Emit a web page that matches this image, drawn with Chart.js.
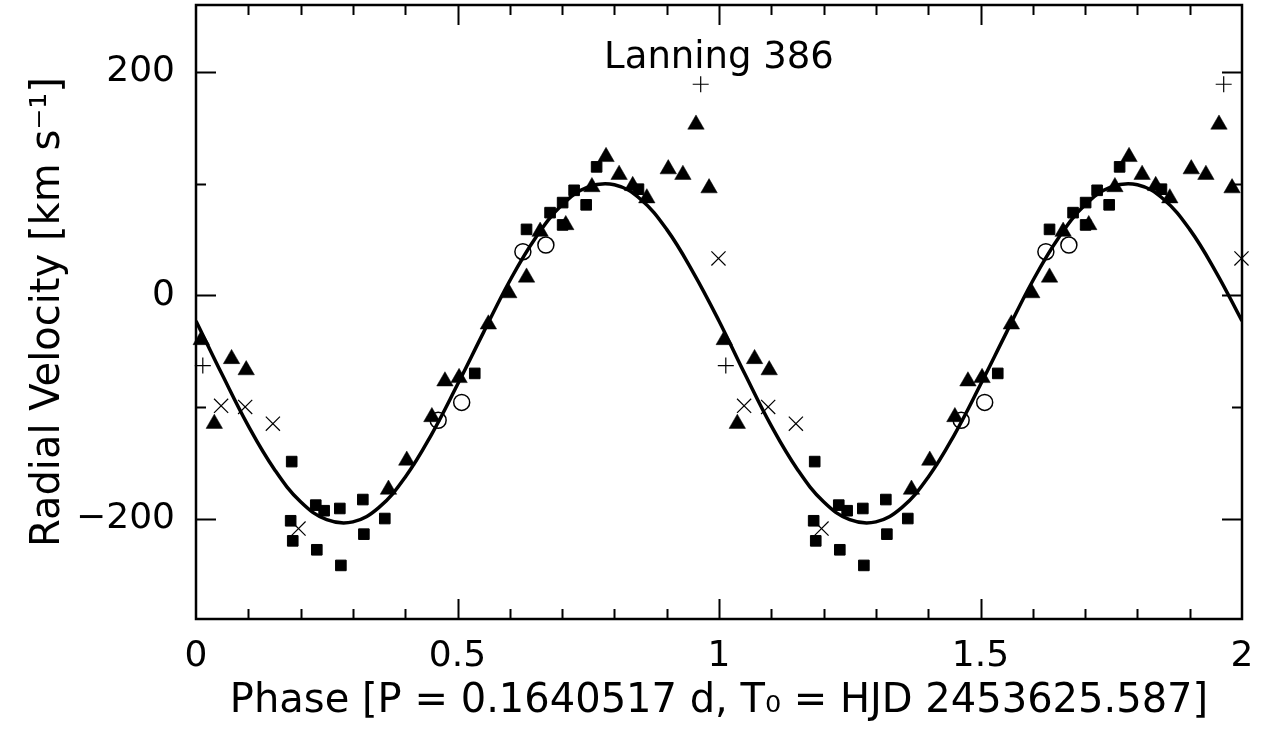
<!DOCTYPE html>
<html>
<head>
<meta charset="utf-8">
<title>Lanning 386</title>
<script src="https://cdn.jsdelivr.net/npm/chart.js@4.4.0/dist/chart.umd.min.js"></script>
<style>
  html, body { margin: 0; padding: 0; background: #fff; }
</style>
</head>
<body>
<canvas id="rv" width="1265" height="729"></canvas>
<script>
// orbital fit, one cycle (phase 0..1), km/s
const curvePhase = [0, 0.05, 0.10, 0.15, 0.20, 0.25, 0.30, 0.35, 0.40, 0.45, 0.50,
                    0.55, 0.60, 0.65, 0.70, 0.75, 0.80, 0.85, 0.90, 0.95, 1.00];
const curveVel = [-23, -71, -117, -156, -185, -201, -203, -190, -163, -125, -80,
                  -33, 13, 52, 81, 97, 99, 86, 59, 21, -23];

// measured velocities by instrument
const triPhase = [0.010, 0.035, 0.068, 0.096, 0.368, 0.403, 0.451, 0.476, 0.503, 0.559, 0.598,
                  0.632, 0.658, 0.707, 0.757, 0.784, 0.809, 0.835, 0.862, 0.903, 0.931, 0.956, 0.981];
const triVel = [-40, -115, -57, -67, -174, -148, -109, -77, -74, -26, 2,
                16, 57, 63, 97, 124, 108, 98, 87, 113, 108, 153, 96];

const sqPhase = [0.181, 0.183, 0.185, 0.229, 0.231, 0.245, 0.275, 0.277, 0.319, 0.321,
                 0.361, 0.533, 0.632, 0.677, 0.701, 0.701, 0.723, 0.746, 0.766, 0.846];
const sqVel = [-202, -149, -220, -188, -228, -193, -191, -242, -183, -214,
               -200, -70, 59, 74, 63, 83, 94, 81, 115, 95];

const circPhase = [0.463, 0.508, 0.625, 0.669];
const circVel = [-112, -96, 39, 45];

const plusPhase = [0.013, 0.965];
const plusVel = [-63, 189];

const crossPhase = [0.048, 0.094, 0.147, 0.196, 0.999];
const crossVel = [-99, -100, -115, -209, 33];

const xTickLabels = ['0', '0.5', '1', '1.5', '2'];
const yTickLabels = ['\u2212200', '0', '200'];

const FONT = '"DejaVu Sans", sans-serif';

// plot the phase-folded data twice (phase 0..2)
function fold(phases, vels) {
    const pts = [];
    for (let k = 0; k < 2; k++) {
        for (let i = 0; i < phases.length; i++) {
            pts.push({x: phases[i] + k, y: vels[i]});
        }
    }
    return pts;
}

function curvePoints() {
    const pts = [];
    for (let k = 0; k < 2; k++) {
        for (let i = (k === 0 ? 0 : 1); i < curvePhase.length; i++) {
            pts.push({x: curvePhase[i] + k, y: curveVel[i]});
        }
    }
    return pts;
}

// box with inward ticks on all four sides, plus the object name
const frameTicks = {
    id: 'frameTicks',
    afterDraw(chart) {
        const ctx = chart.ctx;
        const a = chart.chartArea;
        const xs = chart.scales.x;
        const ys = chart.scales.y;
        ctx.save();
        ctx.strokeStyle = '#000';
        ctx.lineWidth = 2.5;
        ctx.strokeRect(a.left, a.top, a.right - a.left, a.bottom - a.top);

        ctx.lineWidth = 2;
        ctx.beginPath();
        xs.ticks.forEach(t => {
            const n = Math.round(t.value * 10);
            if (n <= 0 || n >= 20) return;
            const len = n % 5 === 0 ? 20 : 10;
            const px = Math.round(xs.getPixelForValue(t.value)) + 0.5;
            ctx.moveTo(px, a.bottom);
            ctx.lineTo(px, a.bottom - len);
            ctx.moveTo(px, a.top);
            ctx.lineTo(px, a.top + len);
        });
        ys.ticks.forEach(t => {
            if (t.value % 100 !== 0) return;
            const len = t.value % 200 === 0 ? 20 : 10;
            const py = Math.round(ys.getPixelForValue(t.value)) + 0.5;
            ctx.moveTo(a.left, py);
            ctx.lineTo(a.left + len, py);
            ctx.moveTo(a.right, py);
            ctx.lineTo(a.right - len, py);
        });
        ctx.stroke();

        ctx.fillStyle = '#000';
        ctx.font = '37px ' + FONT;
        ctx.textAlign = 'center';
        ctx.textBaseline = 'alphabetic';
        ctx.fillText('Lanning 386', (a.left + a.right) / 2, 68);
        ctx.restore();
    }
};

const ctx = document.getElementById('rv');
const chart = new Chart(ctx, {
    type: 'scatter',
    data: {
        datasets: [
            {
                label: 'fit',
                data: curvePoints(),
                showLine: true,
                borderColor: '#000',
                borderWidth: 3.5,
                pointRadius: 0,
                tension: 0.4,
                fill: false
            },
            {
                label: 'triangles',
                data: fold(triPhase, triVel),
                pointStyle: 'triangle',
                pointRadius: 9.5,
                backgroundColor: '#000',
                borderColor: '#000',
                borderWidth: 0.5,
                clip: false
            },
            {
                label: 'squares',
                data: fold(sqPhase, sqVel),
                pointStyle: 'rect',
                pointRadius: 7.5,
                backgroundColor: '#000',
                borderColor: '#000',
                borderWidth: 1,
                clip: false
            },
            {
                label: 'circles',
                data: fold(circPhase, circVel),
                pointStyle: 'circle',
                pointRadius: 8,
                backgroundColor: 'rgba(0,0,0,0)',
                borderColor: '#000',
                borderWidth: 1.5,
                clip: false
            },
            {
                label: 'plus',
                data: fold(plusPhase, plusVel),
                pointStyle: 'cross',
                pointRadius: 8,
                borderColor: '#000',
                borderWidth: 1.2,
                clip: false
            },
            {
                label: 'x',
                data: fold(crossPhase, crossVel),
                pointStyle: 'crossRot',
                pointRadius: 10,
                borderColor: '#000',
                borderWidth: 1.2,
                clip: false
            }
        ]
    },
    options: {
        responsive: false,
        animation: false,
        devicePixelRatio: 1,
        layout: {
            autoPadding: false,
            padding: {left: 10, right: 23, top: 5, bottom: 0}
        },
        plugins: {
            legend: {display: false},
            tooltip: {enabled: false}
        },
        scales: {
            x: {
                type: 'linear',
                min: 0,
                max: 2,
                afterFit(s) {
                    s.height = 110;
                    s.paddingLeft = 0;
                    s.paddingRight = 0;
                },
                grid: {display: false, drawTicks: false},
                border: {display: false},
                ticks: {
                    stepSize: 0.1,
                    autoSkip: false,
                    maxRotation: 0,
                    padding: 16,
                    color: '#000',
                    font: {family: FONT, size: 36},
                    callback(v) {
                        const n = Math.round(v * 10);
                        return n % 5 === 0 ? xTickLabels[n / 5] : '';
                    }
                },
                title: {
                    display: true,
                    text: 'Phase [P = 0.1640517 d, T\u2080 = HJD 2453625.587]',
                    color: '#000',
                    font: {family: FONT, size: 40},
                    padding: {top: 0, bottom: 3}
                }
            },
            y: {
                type: 'linear',
                min: -290,
                max: 260,
                afterFit(s) {
                    s.width = 186;
                    s.paddingTop = 0;
                    s.paddingBottom = 0;
                },
                grid: {display: false, drawTicks: false},
                border: {display: false},
                ticks: {
                    stepSize: 100,
                    autoSkip: false,
                    padding: 21,
                    color: '#000',
                    font: {family: FONT, size: 36},
                    callback(v) {
                        if (v % 200 !== 0) return '';
                        return yTickLabels[v / 200 + 1];
                    }
                },
                title: {
                    display: true,
                    text: 'Radial Velocity [km s\u207B\u00B9]',
                    color: '#000',
                    font: {family: FONT, size: 40},
                    padding: {top: 15, bottom: 0}
                }
            }
        }
    },
    plugins: [frameTicks]
});
</script>
</body>
</html>
